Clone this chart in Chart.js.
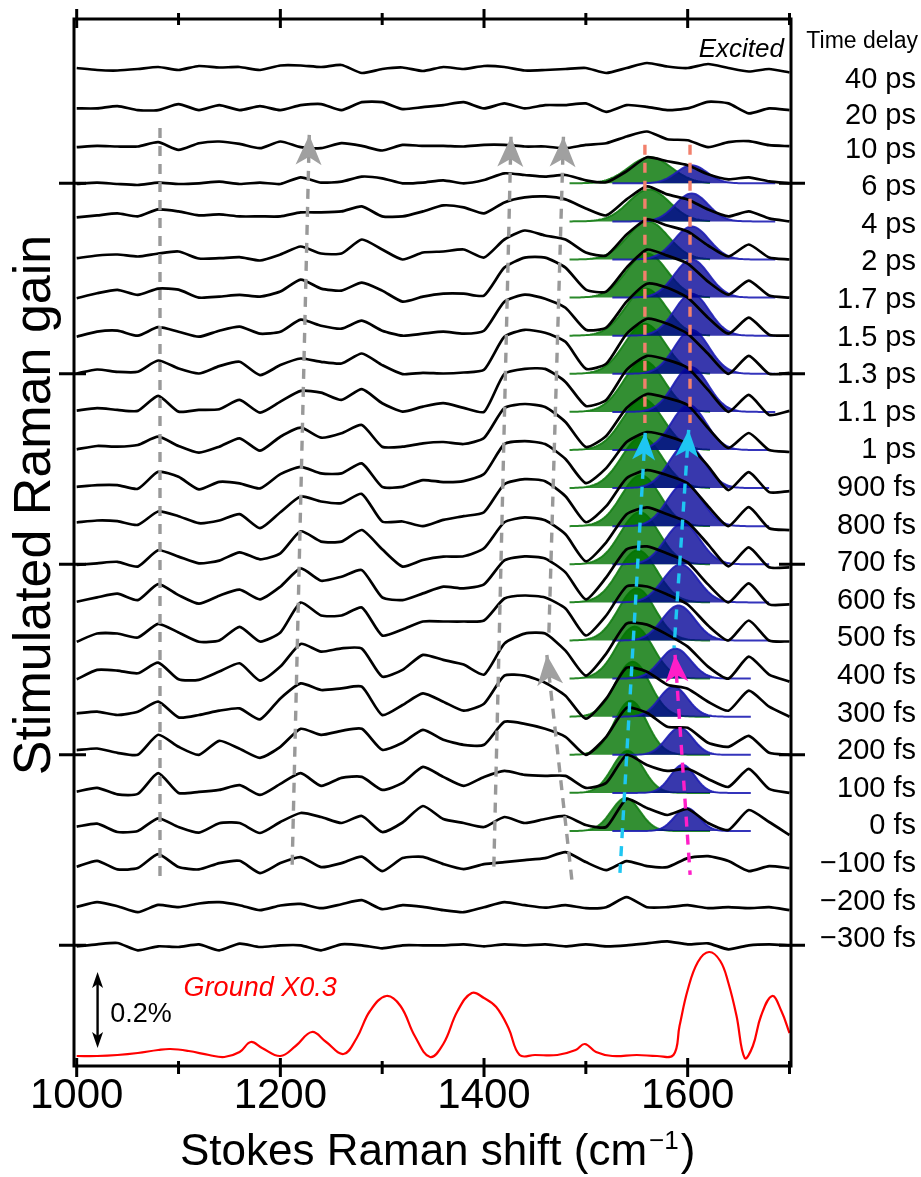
<!DOCTYPE html>
<html>
<head>
<meta charset="utf-8">
<title>Stimulated Raman gain vs time delay</title>
<script src="https://cdn.jsdelivr.net/npm/chart.js@4.4.1/dist/chart.umd.min.js"></script>
<style>
  html, body { margin: 0; padding: 0; background: #fff; }
  canvas { display: block; }
</style>
</head>
<body>
<canvas id="raman" width="921" height="1177"></canvas>
<script>
// Raman shift grid of the excited-state traces (cm-1)
var shifts = [1000, 1020, 1040, 1060, 1080, 1100, 1120, 1140, 1160, 1180, 1200, 1220,
  1240, 1260, 1280, 1300, 1320, 1340, 1360, 1380, 1400, 1420, 1440, 1460, 1480, 1500,
  1520, 1540, 1560, 1580, 1600, 1620, 1640, 1660, 1680, 1700];

var delays = ['40 ps', '20 ps', '10 ps', '6 ps', '4 ps', '2 ps', '1.7 ps', '1.5 ps', '1.3 ps',
  '1.1 ps', '1 ps', '900 fs', '800 fs', '700 fs', '600 fs', '500 fs', '400 fs', '300 fs',
  '200 fs', '100 fs', '0 fs', '\u2212100 fs', '\u2212200 fs', '\u2212300 fs'];

// gain of each trace above its own baseline (arb. units, the 0.2% bar is 76 of them)
var traces = [
  [1, -1, -1.5, 0, 2, -1, 3, 1.5, 2, -1, 3.5, 3.5, 2, 4, -4, 0, 1.5, -2, 2, 0, 3, 2, -1.5, -1, 0, 1, -4, 1, 6, 2.5, 1, 5, 1, -2.5, 0, -3.5],
  [-1.3, -1.3, 1, -3, -3, 3, -3, 2, -3, 1, -3, 2, 3, -3, 5, 5, -2, 0, 2, 5, -1.3, 3.7, -1.3, 2, 2, 3.7, -4.7, 2, 0.3, -3, -1.3, 5.3, 3.7, -6.3, -1.3, -3],
  [-2, -0.7, -1.3, -1.3, 3, -4.7, 2, 3.7, 1.3, -3, 3.7, -2, -3, 2, -0.7, -5.3, 0.3, -0.7, -0.7, -1.3, 0.3, 0.3, -1.3, -1.3, -3, 0.3, 2, 8.7, 13.7, 6, 5, -2, 3, 4, 0, -1],
  [-0.7, 0.7, -0.7, -1.7, 0.7, -0.7, 0, 1.7, -0.7, 0.7, -0.7, 6, 0.7, 1.7, 6.7, 5, 0, 0.7, 3, 0, 3.3, 10, 8.3, 6.7, 8.3, 3, 1, 12, 26, 22, 18, 9, 4, 6, 2, 0],
  [4, 6, 8, 5, 12, 10, 6, 7, 5, 5, 5, 9, 9, 10, 15, 5, 5, 10, 16, 14, 8, 19, 24, 25, 22, 13, 6, 22, 35, 27, 22, 12, 5, 10, 3, 0],
  [1.3, 4, 5, 3, 6, 8, 1, 1.3, 2.3, -1, 5, 13, 6, 6, 20, 10, 0, 7, 8, 10, 2, 20, 29, 24, 20, 7, 4, 25, 40, 34, 28, 14, 3, 15, 2, 0],
  [-0.7, 4.3, 7.7, 2.7, 9, 8, 0, 1, 2.7, 1, 6, 18, 9, 7, 15, 7, -4, 1, 4, 4, 2, 30, 40, 40, 30, 8, 6, 30, 48, 42, 34, 16, 3, 17, 2, 0],
  [-1, 4, 5, 0, 8.5, 4, -1, 5, 9, 2, 4, 16, 10, 7, 15, 5, 0, 2, 4, 2, 5, 34, 41, 37, 28, 6, 8, 34, 52, 48, 38, 18, 2, 18, 1, 0],
  [0.3, 4.3, 2, 2, 13.3, 5.3, 0.3, 7.7, 12, -1.3, 8.7, 15.3, 12, 10.3, 20.3, 8.7, -0.3, 1, 0.3, 1.3, 4, 37, 44, 41, 32, 5, 10, 40, 55, 50, 40, 20, 0, 18, 0, 1],
  [1.3, 3.7, 2, 1, 16, 0.3, 2, 2.7, 12, -0.7, 10.3, 21, 19.3, 12, 22.7, 8.7, 0.3, 5.3, 8.7, 4, 0, 38, 43, 43, 30, 6, 12, 42, 56, 52, 44, 22, 0, 17, -3, 1],
  [0.7, 4, 3.3, 5, 13.3, 4, -2.7, 3.3, 11.7, -0.7, 13.3, 22.3, 12.3, 16.7, 25, 3.3, 3.3, 6.7, 8, 6, 12, 42, 46, 43, 28, 3, 14, 42, 56, 52, 45, 22, 2, 17, 0, -2],
  [1.3, 3, 3, -0.7, 16.3, 11.3, -1.3, 6.3, 4.7, -0.3, 14, 21.3, 14.7, 14.7, 24.7, 1.3, 1.3, 8, 6, 7, 14, 44, 47, 44, 29, 5, 20, 46, 56, 52, 44, 22, -2, 16, -4, -3],
  [3.7, 5.7, 5, 1.3, 14.7, 10, 3, 5.7, 12, -2, 14, 29.7, 24.7, 23, 32.3, 4.7, 4.7, 0, 6.3, 10, 14, 42, 47, 45, 30, 4, 20, 48, 56, 51, 43, 20, 0, 19, -2, -4],
  [-0.7, 1, 2.5, -2.3, 14, 7.7, 1, 3.7, 12, 5, 11, 33, 22.7, 22.7, 34.3, 15, -2.3, 4.3, 7.7, 8, 16, 42, 47, 44, 30, 3, 22, 50, 57, 50, 42, 20, -2, 17, -3, -3],
  [0.7, 5, 8.7, 2.3, 18.3, 7.3, -1.3, 6.7, 12.7, 3, 15.7, 34, 21.7, 25.7, 32.3, 5, 2.3, 9, 15.7, 14, 18, 42, 46, 44, 30, 3, 25, 53, 56, 49, 40, 18, 0, 19, -2, -2],
  [-1.3, 7, 7, 3, 16.7, 8, -1.3, 0, 13.7, -1, 8, 38, 25, 25, 33, 5, 11, 19, 19, 19, 20, 42, 45, 43, 32, 5, 25, 54, 54, 46, 36, 15, 0, 20, 0, -1],
  [-0.7, 8.7, 8, 5.3, 16, -0.7, -1.3, 7, 15.3, -2, 12, 34.7, 27, 30.3, 30, 2, 8.7, 23.7, 18.7, 14, 4, 35, 45, 45, 28, 3, 25, 55, 54, 44, 32, 12, 0, 22, 4, -3],
  [3.3, 5, 1.7, 5, 15, -0.7, 1.7, 6, 8.3, -2.7, 18.3, 33.3, 26.7, 28.3, 30, 1.7, 11.7, 23.3, 15, 6, 13, 41, 41, 34, 21, -2, 18, 49, 45, 32, 28, 15, 6, 26, 10, 0],
  [4.7, 6.3, 2, 0, 20, 8, 0, 14, 6, -3, 8, 26, 20, 24, 26, 5, 12, 25, 15, 10, 10, 33, 31, 26, 18, 0, 18, 47, 42, 28, 27, 12, 8, 19, 2, 0],
  [1.3, 5, -1.5, -1, 19.7, 0, 1, 3, 7.7, -2, 9, 19.7, 7, 15, 16, 3, 10, 26, 16, 7, 16, 22, 18, 17, 17, 5, 10, 38, 28, 22, 24, 14, 6, 24, 4, 0],
  [4.3, 7.3, -1, 0, 12.7, 4, -1.7, 7.7, 8, -2, 9, 18, 14, 8, 15, -1, 8.5, 25, 12, 8, 4, 14, 8, 12, 15, 6, 4, 32, 23, 16, 22, 8, 1, 21, 9, -4],
  [2.3, 8.3, -0.3, 1, 15, 2, -0.3, 6, 8.3, -4, 6, 12, 2, 6, 12.5, -2, 11, 12.3, 5, 0, 5, 7, 9, 11, 17, 7, -1, 8, 3, 2, 11, 13, 8, -2, 3, 1],
  [0.3, 5, 1, -5, 2.3, 0, 3.7, 5, 2, -3, 1.7, 3.3, -1, 3, 7, -2, 2, 0.3, -3, -5, 0, 5, 2, -0.5, 2, -1, 0, 10, 0, 0, 2, -1, 0, -1, 0, -3],
  [-1, 1, 2.3, -5, -1, -1.7, 1, -5, 1.7, -1.7, 0, 0, -5, 1, 0, -3, 0, 0, 0, 1, -1, 1, 0, 1, -1, 1, -1, 0, 2, 4, 1, 2, -4, 0, 1, 0]
];

// Gaussian fit bands (green ~1550, blue ~1600), for delays 6 ps ... 0 fs
var fitRows = [3, 4, 5, 6, 7, 8, 9, 10, 11, 12, 13, 14, 15, 16, 17, 18, 19, 20];
var greenCenter = [1563, 1562, 1561, 1560, 1559, 1558, 1557, 1556, 1555, 1554, 1553, 1551, 1550, 1548, 1546, 1544, 1541, 1539];
var greenHeight = [26, 32, 38, 44, 47, 50, 51, 51, 51, 51, 52, 52, 52, 52, 55, 54, 42, 33];
var greenWidth = [21, 20, 20, 20, 20, 20, 20, 20, 20, 19, 19, 19, 18, 18, 17, 16, 15, 14];
var blueCenter = [1604, 1604, 1604, 1604, 1604, 1604, 1603, 1601, 1599, 1597, 1595, 1593, 1591, 1588, 1586, 1592, 1595, 1599];
var blueHeight = [18, 28, 33, 38, 42, 44, 45, 45, 44, 43, 41, 38, 35, 30, 30, 27, 28, 23];
var blueWidth = [15, 16, 17, 17, 17, 17, 17, 17, 17, 17, 17, 17, 16, 15, 14, 13, 12, 12];
var blueEnd = [1686, 1686, 1686, 1686, 1686, 1686, 1686, 1680, 1680, 1680, 1680, 1680, 1680, 1662, 1662, 1662, 1662, 1662];

// ground-state spectrum (x0.3)
var groundShift = [1000, 1020, 1040, 1060, 1080, 1092, 1110, 1130, 1145, 1160, 1171, 1182, 1200, 1215,
  1231, 1245, 1262, 1275, 1288, 1304, 1318, 1332, 1347, 1360, 1374, 1388, 1400, 1412, 1424, 1435,
  1450, 1472, 1490, 1499, 1510, 1526, 1550, 1570, 1586, 1592, 1600, 1610, 1621, 1632, 1640, 1648,
  1656, 1664, 1672, 1683, 1692, 1700];
var groundGain = [10, 10, 11, 13, 16, 17, 15, 11, 9, 14, 24, 18, 10, 20,
  34, 24, 12, 28, 55, 70, 60, 30, 9, 22, 55, 73, 68, 59, 38, 11,
  11, 11, 16, 22, 14, 10, 11, 10, 11, 40, 76, 104, 114, 105, 83, 50,
  8, 20, 50, 70, 55, 33];

// guide lines: [shift, row] at the top and bottom end
var guides = [
  { top: [1081.8, 1.55], bottom: [1081.8, 21.29], color: '#999999', arrow: false },
  { top: [1228.4, 1.73], bottom: [1211.5, 21.0], color: '#999999', arrow: true },
  { top: [1426.5, 1.78], bottom: [1409.5, 21.1], color: '#999999', arrow: true },
  { top: [1478.0, 1.78], bottom: [1463.5, 14.99], color: '#999999', arrow: true },
  { top: [1461.7, 15.38], bottom: [1486.3, 21.29], color: '#999999', arrow: true },
  { top: [1558.0, 1.99], bottom: [1558.0, 9.29], color: '#f2806c', arrow: false },
  { top: [1602.3, 1.99], bottom: [1602.3, 9.29], color: '#f2806c', arrow: false },
  { top: [1558.3, 9.55], bottom: [1533.5, 21.1], color: '#1ec6f2', arrow: true },
  { top: [1601.0, 9.47], bottom: [1586.6, 15.2], color: '#1ec6f2', arrow: true },
  { top: [1587.6, 15.38], bottom: [1602.4, 21.15], color: '#ff1ec8', arrow: true }
];

var majorTicks = [1000, 1200, 1400, 1600];
var minorTicks = [1100, 1300, 1500, 1700];
var sideTickRows = [3, 8, 13, 18, 23];

var X_MIN = 997.35, X_MAX = 1701.47, Y_MAX = 1047;
var ROW_TOP = 997, ROW_STEP = 38.1;
var FONT = '"Liberation Sans", Arial, Helvetica, sans-serif';

function rowBase(r) { return ROW_TOP - ROW_STEP * r; }

function gaussPoints(c, h, w, from, to, base) {
  var pts = [];
  for (var s = from; s <= to; s += 2) {
    pts.push({ x: s, y: base + h * Math.exp(-0.5 * Math.pow((s - c) / w, 2)) });
  }
  return pts;
}

var datasets = [];

fitRows.forEach(function (r, i) {
  var base = rowBase(r);
  datasets.push({
    data: gaussPoints(greenCenter[i], greenHeight[i], greenWidth[i], 1484, 1622, base),
    borderColor: 'rgba(20,125,20,0.9)', backgroundColor: 'rgba(0,115,0,0.8)',
    borderWidth: 2, fill: { value: base }, tension: 0, order: 4
  });
  datasets.push({
    data: gaussPoints(blueCenter[i], blueHeight[i], blueWidth[i], 1526, blueEnd[i], base),
    borderColor: 'rgba(30,30,180,0.9)', backgroundColor: 'rgba(0,0,150,0.78)',
    borderWidth: 2, fill: { value: base }, tension: 0, order: 3
  });
});

traces.forEach(function (vals, r) {
  datasets.push({
    data: shifts.map(function (s, i) { return { x: s, y: rowBase(r) + vals[i] }; }),
    borderColor: '#000', borderWidth: 2.7, fill: false, tension: 0.2, order: 2
  });
});

datasets.push({
  data: groundShift.map(function (s, i) { return { x: s, y: groundGain[i] }; }),
  borderColor: '#ff0000', borderWidth: 2.2, fill: false, tension: 0.4, order: 2
});

guides.forEach(function (g) {
  datasets.push({
    data: [{ x: g.top[0], y: rowBase(g.top[1]) }, { x: g.bottom[0], y: rowBase(g.bottom[1]) }],
    borderColor: g.color, borderWidth: 3.4, borderDash: [10, 8], fill: false, order: 1
  });
});

function drawText(ctx, str, x, y, size, opt) {
  opt = opt || {};
  ctx.save();
  ctx.translate(x, y);
  if (opt.rotate) ctx.rotate(opt.rotate);
  ctx.font = (opt.italic ? 'italic ' : '') + size + 'px ' + FONT;
  ctx.textAlign = opt.align || 'left';
  ctx.textBaseline = 'alphabetic';
  ctx.fillStyle = opt.color || '#000';
  ctx.fillText(str, 0, 0);
  ctx.restore();
}

var decorations = {
  id: 'decorations',
  afterDatasetsDraw: function (chart) {
    var ctx = chart.ctx, xs = chart.scales.x, ys = chart.scales.y;
    guides.forEach(function (g) {
      if (!g.arrow) return;
      var tx = xs.getPixelForValue(g.top[0]), ty = ys.getPixelForValue(rowBase(g.top[1]));
      var bx = xs.getPixelForValue(g.bottom[0]), by = ys.getPixelForValue(rowBase(g.bottom[1]));
      var ang = Math.atan2(ty - by, tx - bx) + Math.PI / 2;
      var gray = g.color === '#999999';
      var w = gray ? 26 : 23, len = gray ? 30 : 27;
      ctx.save();
      ctx.translate(tx, ty);
      ctx.rotate(ang);
      ctx.fillStyle = gray ? '#a0a0a0' : g.color;
      ctx.beginPath();
      ctx.moveTo(0, 0);
      ctx.lineTo(w / 2, len);
      ctx.lineTo(0, len * 0.74);
      ctx.lineTo(-w / 2, len);
      ctx.closePath();
      ctx.fill();
      ctx.restore();
    });
  },
  afterDraw: function (chart) {
    var ctx = chart.ctx, a = chart.chartArea, xs = chart.scales.x, ys = chart.scales.y;
    ctx.save();
    ctx.strokeStyle = '#000';
    ctx.lineWidth = 3;
    ctx.strokeRect(a.left, a.top, a.right - a.left, a.bottom - a.top);

    // x ticks, bottom and top
    majorTicks.concat(minorTicks).forEach(function (v) {
      var px = xs.getPixelForValue(v), major = majorTicks.indexOf(v) >= 0;
      ctx.beginPath();
      ctx.moveTo(px, a.bottom - (major ? 8 : 5));
      ctx.lineTo(px, a.bottom + (major ? 11 : 8));
      ctx.moveTo(px, a.top - (major ? 10 : 6));
      ctx.lineTo(px, a.top + (major ? 9 : 6));
      ctx.stroke();
    });
    // delay ticks on both sides
    sideTickRows.forEach(function (r) {
      var py = ys.getPixelForValue(rowBase(r));
      ctx.beginPath();
      ctx.moveTo(a.left - 15, py);
      ctx.lineTo(a.left + 12, py);
      ctx.moveTo(a.right - 12, py);
      ctx.lineTo(a.right + 14, py);
      ctx.stroke();
    });
    ctx.restore();

    majorTicks.forEach(function (v) {
      drawText(ctx, String(v), xs.getPixelForValue(v), 1108, 42, { align: 'center' });
    });

    // x title with superscript
    ctx.save();
    ctx.translate(180, 1165);
    ctx.fillStyle = '#000';
    ctx.textBaseline = 'alphabetic';
    ctx.font = '44px ' + FONT;
    var main = 'Stokes Raman shift (cm';
    ctx.fillText(main, 0, 0);
    var w1 = ctx.measureText(main).width;
    ctx.font = '26px ' + FONT;
    ctx.fillText('\u22121', w1 + 2, -16);
    var w2 = ctx.measureText('\u22121').width;
    ctx.font = '44px ' + FONT;
    ctx.fillText(')', w1 + w2 + 4, 0);
    ctx.restore();

    // y title
    drawText(ctx, 'Stimulated Raman gain', 50, 505, 52, { align: 'center', rotate: -Math.PI / 2 });

    // delay labels
    drawText(ctx, 'Time delay', 918, 48, 23, { align: 'right' });
    delays.forEach(function (d, r) {
      var cy = r < 2 ? 77 + 36 * r : 147 + 37.6 * (r - 2);
      drawText(ctx, d, 916, cy + 10.5, 29, { align: 'right' });
    });

    drawText(ctx, 'Excited', 784, 57, 26, { align: 'right', italic: true });
    drawText(ctx, 'Ground X0.3', xs.getPixelForValue(1105), 996, 27, { italic: true, color: '#ff0000' });
    drawText(ctx, '0.2%', xs.getPixelForValue(1033), 1022, 27);

    // 0.2% scale bar
    var bx = xs.getPixelForValue(1020.5), y1 = ys.getPixelForValue(94), y2 = ys.getPixelForValue(18);
    ctx.save();
    ctx.strokeStyle = '#000';
    ctx.fillStyle = '#000';
    ctx.lineWidth = 2.4;
    ctx.beginPath();
    ctx.moveTo(bx, y1 + 10);
    ctx.lineTo(bx, y2 - 10);
    ctx.stroke();
    ctx.beginPath();
    ctx.moveTo(bx, y1); ctx.lineTo(bx + 5.5, y1 + 16); ctx.lineTo(bx, y1 + 12); ctx.lineTo(bx - 5.5, y1 + 16);
    ctx.closePath(); ctx.fill();
    ctx.beginPath();
    ctx.moveTo(bx, y2); ctx.lineTo(bx + 5.5, y2 - 16); ctx.lineTo(bx, y2 - 12); ctx.lineTo(bx - 5.5, y2 - 16);
    ctx.closePath(); ctx.fill();
    ctx.restore();
  }
};

new Chart(document.getElementById('raman').getContext('2d'), {
  type: 'line',
  data: { datasets: datasets },
  options: {
    responsive: false,
    animation: false,
    devicePixelRatio: 1,
    layout: { padding: { left: 74, right: 130, top: 19, bottom: 111 } },
    scales: {
      x: { type: 'linear', min: X_MIN, max: X_MAX, display: false },
      y: { type: 'linear', min: 0, max: Y_MAX, display: false }
    },
    elements: { point: { radius: 0 } },
    plugins: { legend: { display: false }, tooltip: { enabled: false } }
  },
  plugins: [decorations]
});
</script>
</body>
</html>
